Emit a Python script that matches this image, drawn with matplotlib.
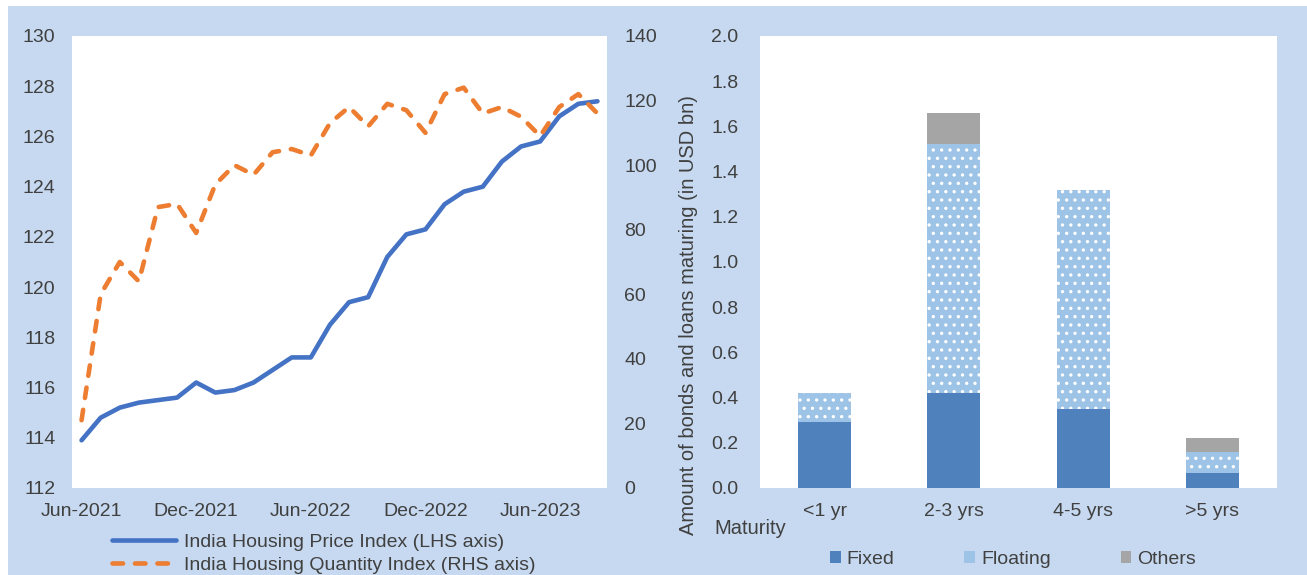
import matplotlib

matplotlib.use("Agg")
import matplotlib.lines
import matplotlib.patches
import matplotlib.pyplot
import numpy

W, H = 1307, 575
BG = "#C6D9F0"
TEXT = "#404040"
FS = 14

MONTHS = [
    "Jun-2021", "Jul-2021", "Aug-2021", "Sep-2021", "Oct-2021", "Nov-2021",
    "Dec-2021", "Jan-2022", "Feb-2022", "Mar-2022", "Apr-2022", "May-2022",
    "Jun-2022", "Jul-2022", "Aug-2022", "Sep-2022", "Oct-2022", "Nov-2022",
    "Dec-2022", "Jan-2023", "Feb-2023", "Mar-2023", "Apr-2023", "May-2023",
    "Jun-2023", "Jul-2023", "Aug-2023", "Sep-2023",
]
PRICE_INDEX = [
    113.9, 114.8, 115.2, 115.4, 115.5, 115.6, 116.2, 115.8, 115.9, 116.2,
    116.7, 117.2, 117.2, 118.5, 119.4, 119.6, 121.2, 122.1, 122.3, 123.3,
    123.8, 124.0, 125.0, 125.6, 125.8, 126.8, 127.3, 127.4,
]
QUANTITY_INDEX = [
    21, 60, 70, 64, 87, 88, 79, 94, 100, 97,
    104, 105, 103, 113, 118, 112, 119, 117, 110, 122,
    124, 116, 118, 115, 109, 118, 122, 116,
]
PRICE_LABEL = "India Housing Price Index (LHS axis)"
QUANTITY_LABEL = "India Housing Quantity Index (RHS axis)"

MATURITIES = ["<1 yr", "2-3 yrs", "4-5 yrs", ">5 yrs"]
FIXED = [0.29, 0.42, 0.35, 0.065]
FLOATING = [0.13, 1.10, 0.97, 0.095]
OTHERS = [0.0, 0.14, 0.0, 0.06]


def fx(px):
    return px / W


def fy(py):
    return 1 - py / H


def style_axes(ax):
    ax.set_facecolor("white")
    for spine in ax.spines.values():
        spine.set_visible(False)


def plot_housing(fig):
    ax = fig.add_axes([fx(72), fy(488), (607 - 72) / W, (488 - 36) / H])
    style_axes(ax)
    x = numpy.arange(len(MONTHS))
    (price,) = ax.plot(x, PRICE_INDEX, color="#4472C4", lw=3.3,
                       solid_capstyle="round", solid_joinstyle="round",
                       label=PRICE_LABEL, zorder=3)
    ax.set_xlim(-0.5, len(MONTHS) - 0.5)
    ax.set_ylim(112, 130)
    ax.set_yticks(numpy.arange(112, 131, 2))
    ax.set_xticks(x[::6])
    ax.set_xticklabels(MONTHS[::6])
    ax.tick_params(axis="y", length=0, pad=12, labelsize=FS, labelcolor=TEXT)
    ax.tick_params(axis="x", length=0, pad=11, labelsize=FS, labelcolor=TEXT)

    ax2 = ax.twinx()
    for spine in ax2.spines.values():
        spine.set_visible(False)
    (quantity,) = ax2.plot(x, QUANTITY_INDEX, color="#ED7D31", lw=3.3,
                           linestyle=(0, (2.3, 2.6)), dash_capstyle="round",
                           label=QUANTITY_LABEL, zorder=2)
    ax2.set_ylim(0, 140)
    ax2.set_yticks(numpy.arange(0, 141, 20))
    ax2.tick_params(axis="y", length=0, pad=12.5, labelsize=FS, labelcolor=TEXT)

    fig.legend(
        handles=[price, quantity],
        loc="upper left",
        bbox_to_anchor=(fx(112), fy(533)),
        frameon=False,
        fontsize=FS,
        labelcolor=TEXT,
        handlelength=3.3,
        handletextpad=0.4,
        labelspacing=0.28,
        borderpad=0,
        borderaxespad=0,
    )


def plot_maturities(fig):
    ax = fig.add_axes([fx(760), fy(488), (1277 - 760) / W, (488 - 36) / H])
    style_axes(ax)
    x = numpy.arange(len(MATURITIES))
    width = 0.41
    fixed = numpy.array(FIXED)
    floating = numpy.array(FLOATING)
    ax.bar(x, fixed, width, color="#4F81BD", lw=0, label="Fixed")
    ax.bar(x, floating, width, bottom=fixed, color="#9DC3E6",
           edgecolor="white", hatch="..", lw=0, label="Floating")
    ax.bar(x, OTHERS, width, bottom=fixed + floating, color="#A5A5A5",
           lw=0, label="Others")
    ax.set_xlim(-0.5, len(MATURITIES) - 0.5)
    ax.set_ylim(0, 2.0)
    ax.set_yticks(numpy.arange(0, 2.01, 0.2))
    ax.yaxis.set_major_formatter(matplotlib.ticker.FormatStrFormatter("%.1f"))
    ax.set_xticks(x)
    ax.set_xticklabels(MATURITIES)
    ax.tick_params(axis="y", length=0, pad=15.5, labelsize=FS, labelcolor=TEXT)
    ax.tick_params(axis="x", length=0, pad=11, labelsize=FS, labelcolor=TEXT)

    fig.text(fx(688), fy(315), "Amount of bonds and loans maturing (in USD bn)",
             rotation=90, ha="center", va="center", fontsize=FS + 0.5,
             color=TEXT)
    fig.text(fx(714), fy(529), "Maturity", ha="left", va="center",
             fontsize=FS + 0.5, color=TEXT)

    handles = [
        matplotlib.patches.Patch(facecolor="#4F81BD", lw=0, label="Fixed"),
        matplotlib.patches.Patch(facecolor="#9DC3E6", lw=0, label="Floating"),
        matplotlib.patches.Patch(facecolor="#A5A5A5", lw=0, label="Others"),
    ]
    fig.legend(
        handles=handles,
        loc="upper left",
        bbox_to_anchor=(fx(830), fy(551)),
        ncol=3,
        frameon=False,
        fontsize=FS,
        labelcolor=TEXT,
        handlelength=0.55,
        handleheight=0.55,
        handletextpad=0.3,
        columnspacing=3.6,
        borderpad=0,
        borderaxespad=0,
    )


def main():
    matplotlib.pyplot.rcParams["font.family"] = ["Liberation Sans", "DejaVu Sans"]
    matplotlib.pyplot.rcParams["hatch.linewidth"] = 1.2
    fig = matplotlib.pyplot.figure(figsize=(W / 100, H / 100), dpi=100,
                                   facecolor=BG)
    # white margins at the top and left edge of the screenshot
    fig.patches.append(matplotlib.patches.Rectangle(
        (0, fy(6)), 1, 6 / H, transform=fig.transFigure,
        facecolor="white", lw=0, zorder=-1))
    fig.patches.append(matplotlib.patches.Rectangle(
        (0, 0), fx(8), 1, transform=fig.transFigure,
        facecolor="white", lw=0, zorder=-1))
    plot_housing(fig)
    plot_maturities(fig)
    fig.savefig("out.png", dpi=100, facecolor=BG)
    matplotlib.pyplot.close(fig)


if __name__ == "__main__":
    main()
